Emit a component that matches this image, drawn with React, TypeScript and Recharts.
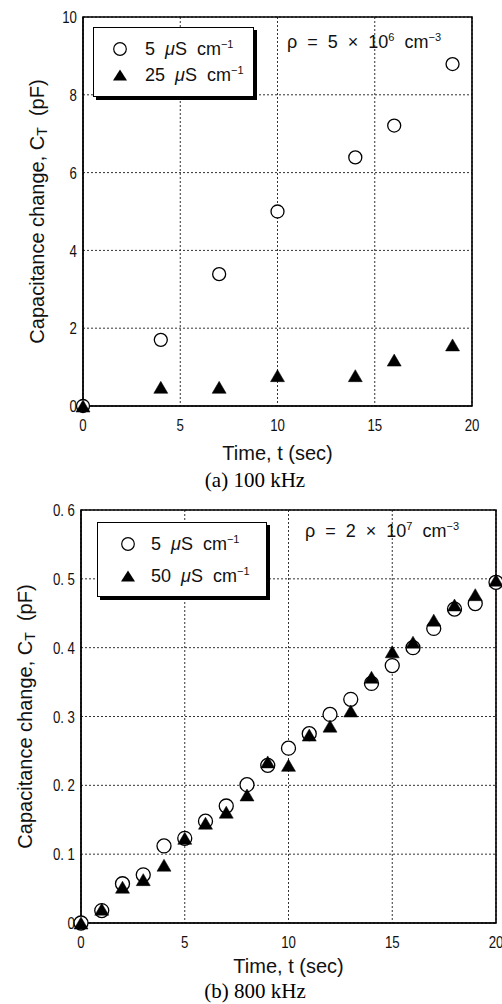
import React from 'react';
import { ScatterChart, Scatter, XAxis, YAxis, CartesianGrid, ReferenceArea, Legend, Label } from 'recharts';

// ---------- data: chart (a) 100 kHz ----------
const timeA = [0, 4, 7, 10, 14, 16, 19];
const lowCondA = [0, 1.7, 3.39, 5.0, 6.39, 7.21, 8.79];
const highCondA = [0, 0.48, 0.48, 0.78, 0.78, 1.18, 1.57];
const seriesNamesA = ['5', '25'];
const yTicksA = [0, 2, 4, 6, 8, 10];
const yTickLabelsA = ['0', '2', '4', '6', '8', '10'];

// ---------- data: chart (b) 800 kHz ----------
const timeB = [0, 1, 2, 3, 4, 5, 6, 7, 8, 9, 10, 11, 12, 13, 14, 15, 16, 17, 18, 19, 20];
const lowCondB = [0, 0.018, 0.057, 0.07, 0.112, 0.123, 0.148, 0.17, 0.201, 0.229, 0.254, 0.275, 0.303, 0.325, 0.348, 0.374, 0.4, 0.428, 0.456, 0.464, 0.495];
const highCondB = [0, 0.02, 0.052, 0.063, 0.084, 0.123, 0.145, 0.161, 0.186, 0.234, 0.229, 0.273, 0.286, 0.308, 0.357, 0.394, 0.408, 0.44, 0.462, 0.477, 0.498];
const seriesNamesB = ['5', '50'];
const yTicksB = [0, 0.1, 0.2, 0.3, 0.4, 0.5, 0.6];
const yTickLabelsB = ['0', '0. 1', '0. 2', '0. 3', '0. 4', '0. 5', '0. 6'];

const xTicks = [0, 5, 10, 15, 20];
const xTickLabels = ['0', '5', '10', '15', '20'];

const dataA1 = timeA.map((t, i) => ({ t, v: lowCondA[i] }));
const dataA2 = timeA.map((t, i) => ({ t, v: highCondA[i] }));
const dataB1 = timeB.map((t, i) => ({ t, v: lowCondB[i] }));
const dataB2 = timeB.map((t, i) => ({ t, v: highCondB[i] }));

const TICK_FONT = '"Liberation Sans", Arial, sans-serif';
const LABEL_FONT = '"Liberation Sans", Arial, sans-serif';

const makeCircle = (r: number) => (p: any) =>
  p.cx == null ? null : (
    <circle cx={p.cx} cy={p.cy} r={r} fill="#fff" stroke="#000" strokeWidth={1.3} />
  );
const makeTriangle = (w: number, h: number) => (p: any) =>
  p.cx == null ? null : (
    <path
      d={`M${p.cx},${p.cy - h / 2} L${p.cx + w / 2},${p.cy + h / 2} L${p.cx - w / 2},${p.cy + h / 2} Z`}
      fill="#000"
      stroke="#000"
      strokeWidth={0.5}
    />
  );

const makeYTick = (ticks: number[], labels: string[]) => (p: any) => {
  const idx = ticks.findIndex((v) => Math.abs(v - p.payload.value) < 1e-9);
  const label = idx >= 0 ? labels[idx] : String(p.payload.value);
  return (
    <g transform={`translate(${p.x + 2} ${p.y}) scale(0.78 1)`}>
      <text x={0} y={0} textAnchor="end" dominantBaseline="central" fontFamily={TICK_FONT} fontSize={17} fill="#111">
        {label}
      </text>
    </g>
  );
};
const XTick = (p: any) => {
  const idx = xTicks.findIndex((v) => v === p.payload.value);
  const label = idx >= 0 ? xTickLabels[idx] : String(p.payload.value);
  return (
    <g transform={`translate(${p.x} ${p.y + 11}) scale(0.78 1)`}>
      <text x={0} y={0} textAnchor="middle" dominantBaseline="central" fontFamily={TICK_FONT} fontSize={17} fill="#111">
        {label}
      </text>
    </g>
  );
};

const makeYLabel = (cx: number) => (p: any) => {
  const vb = p.viewBox || {};
  const cy = vb.y + vb.height / 2;
  return (
    <text
      transform={`translate(${cx} ${cy}) rotate(-90)`}
      x={0}
      y={0}
      textAnchor="middle"
      dominantBaseline="central"
      fontFamily={LABEL_FONT}
      fontSize={20}
      fill="#111"
    >
      Capacitance change, C
      <tspan dy={5} fontSize={14}>T</tspan>
      <tspan dy={-5} xmlSpace="preserve">{'  (pF)'}</tspan>
    </text>
  );
};
const makeXLabel = (dy: number) => (p: any) => {
  const vb = p.viewBox || {};
  return (
    <text
      x={vb.x + vb.width / 2}
      y={vb.y + dy}
      textAnchor="middle"
      dominantBaseline="central"
      fontFamily={LABEL_FONT}
      fontSize={20}
      fill="#111"
    >
      Time, t (sec)
    </text>
  );
};

const CondText = ({ value }: { value: string }) => (
  <span style={{ whiteSpace: 'pre' }}>
    {value}
    {'  '}
    <span style={{ fontStyle: 'italic' }}>μ</span>S{'  '}cm<sup style={{ fontSize: 11, verticalAlign: 7, lineHeight: 0 }}>−1</sup>
  </span>
);

const makeLegend = (names: string[], w: number, h: number, rowGap: number, symX: number, txtX: number) => () => (
  <div
    style={{
      width: w,
      height: h,
      boxSizing: 'border-box',
      border: '1.5px solid #000',
      boxShadow: '3px 3px 0 #000',
      background: '#fff',
      position: 'relative',
      fontFamily: LABEL_FONT,
      fontSize: 18,
      color: '#111',
    }}
  >
    {names.map((n, i) => (
      <div
        key={n}
        style={{ position: 'absolute', left: 0, top: (h - rowGap) / 2 - 12 + i * rowGap, height: 22, display: 'flex', alignItems: 'center' }}
      >
        <svg width={20} height={20} style={{ position: 'absolute', left: symX - 10, top: 1 }}>
          {i === 0 ? (
            <circle cx={10} cy={10} r={6.3} fill="#fff" stroke="#000" strokeWidth={1.2} />
          ) : (
            <path d="M10,4.5 L17,15.5 L3,15.5 Z" fill="#000" />
          )}
        </svg>
        <div style={{ position: 'absolute', left: txtX, top: 0, lineHeight: '22px' }}>
          <CondText value={n} />
        </div>
      </div>
    ))}
  </div>
);

const Annotation = ({ left, top, mant, exp }: { left: number; top: number; mant: string; exp: string }) => (
  <div
    style={{
      position: 'absolute',
      left,
      top,
      fontFamily: LABEL_FONT,
      fontSize: 18,
      color: '#111',
      whiteSpace: 'pre',
      lineHeight: '20px',
    }}
  >
    ρ{'  =  '}
    {mant}
    {'  ×  '}10<sup style={{ fontSize: 11, verticalAlign: 7, lineHeight: 0 }}>{exp}</sup>
    {'  '}cm<sup style={{ fontSize: 11, verticalAlign: 7, lineHeight: 0 }}>−3</sup>
  </div>
);

const Caption = ({ top, text }: { top: number; text: string }) => (
  <div
    style={{
      position: 'absolute',
      left: 0,
      width: 510,
      top,
      textAlign: 'center',
      fontFamily: '"Liberation Serif", "Times New Roman", serif',
      fontSize: 21,
      lineHeight: '20px',
      color: '#000',
    }}
  >
    {text}
  </div>
);

export default function App() {
  return (
    <div style={{ position: 'absolute', left: 0, top: 0, width: 502, height: 1004, background: '#fff', overflow: 'hidden' }}>
      {/* chart (a) */}
      <div style={{ position: 'absolute', left: 0, top: 0 }}>
        <ScatterChart width={502} height={490} margin={{ top: 17, right: 30, bottom: 54, left: 43 }}>
          <CartesianGrid stroke="#333" strokeDasharray="2 2" strokeWidth={1} />
          <XAxis
            type="number"
            dataKey="t"
            domain={[0, 20]}
            ticks={xTicks}
            height={30}
            tickLine={false}
            axisLine={{ stroke: '#000' }}
            tick={XTick}
            interval={0}
          >
            <Label content={makeXLabel(47)} />
          </XAxis>
          <YAxis
            type="number"
            dataKey="v"
            domain={[0, 10]}
            ticks={yTicksA}
            width={40}
            tickLine={false}
            axisLine={{ stroke: '#000' }}
            tick={makeYTick(yTicksA, yTickLabelsA)}
            interval={0}
          >
            <Label content={makeYLabel(37)} />
          </YAxis>
          <ReferenceArea x1={0} x2={20} y1={0} y2={10} fill="none" fillOpacity={0} stroke="#000" strokeWidth={1.6} ifOverflow="visible" />
          <Scatter name={seriesNamesA[0]} data={dataA1} shape={makeCircle(6.5)} isAnimationActive={false} />
          <Scatter name={seriesNamesA[1]} data={dataA2} shape={makeTriangle(14, 12)} isAnimationActive={false} />
          <Legend
            layout="vertical"
            align="center"
            verticalAlign="middle"
            wrapperStyle={{ left: 93, top: 27, width: 'auto', height: 'auto' }}
            content={makeLegend(seriesNamesA, 161, 70, 26, 26, 51)}
          />
        </ScatterChart>
      </div>
      <Annotation left={287} top={32} mant="5" exp="6" />
      <Caption top={470} text="(a) 100 kHz" />

      {/* chart (b) */}
      <div style={{ position: 'absolute', left: 0, top: 490 }}>
        <ScatterChart width={502} height={514} margin={{ top: 20, right: 6, bottom: 51, left: 41 }}>
          <CartesianGrid stroke="#333" strokeDasharray="2 2" strokeWidth={1} />
          <XAxis
            type="number"
            dataKey="t"
            domain={[0, 20]}
            ticks={xTicks}
            height={30}
            tickLine={false}
            axisLine={{ stroke: '#000' }}
            tick={XTick}
            interval={0}
          >
            <Label content={makeXLabel(43)} />
          </XAxis>
          <YAxis
            type="number"
            dataKey="v"
            domain={[0, 0.6]}
            ticks={yTicksB}
            width={40}
            tickLine={false}
            axisLine={{ stroke: '#000' }}
            tick={makeYTick(yTicksB, yTickLabelsB)}
            interval={0}
          >
            <Label content={makeYLabel(25)} />
          </YAxis>
          <ReferenceArea x1={0} x2={20} y1={0} y2={0.6} fill="none" fillOpacity={0} stroke="#000" strokeWidth={1.6} ifOverflow="visible" />
          <Scatter name={seriesNamesB[0]} data={dataB1} shape={makeCircle(7)} isAnimationActive={false} />
          <Scatter name={seriesNamesB[1]} data={dataB2} shape={makeTriangle(14, 12)} isAnimationActive={false} />
          <Legend
            layout="vertical"
            align="center"
            verticalAlign="middle"
            wrapperStyle={{ left: 97, top: 32, width: 'auto', height: 'auto' }}
            content={makeLegend(seriesNamesB, 170, 75, 32, 30, 53)}
          />
        </ScatterChart>
      </div>
      <Annotation left={305} top={521} mant="2" exp="7" />
      <Caption top={981} text="(b) 800 kHz" />
    </div>
  );
}
